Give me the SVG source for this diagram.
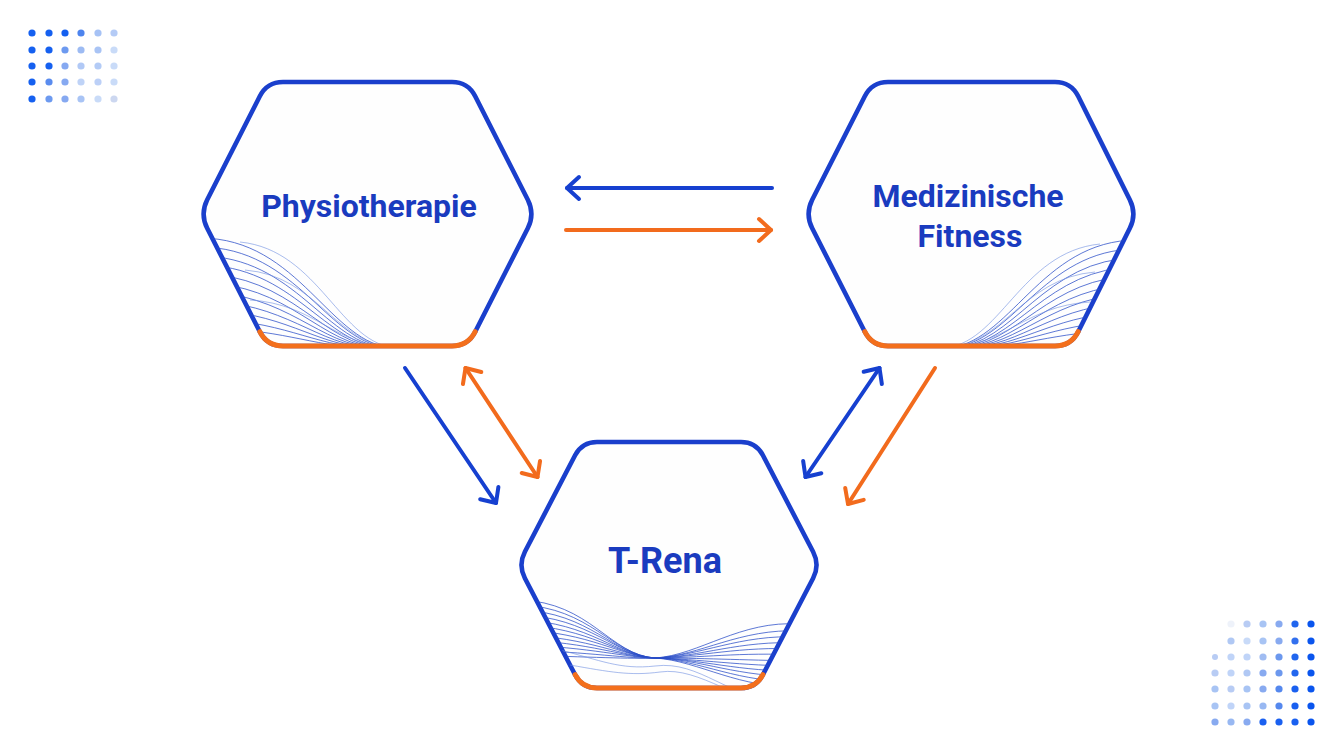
<svg xmlns="http://www.w3.org/2000/svg" width="1344" height="756" viewBox="0 0 1344 756">
<style>
.hex{fill:#fefefe;stroke:#1a3fcc;stroke-width:4.6;stroke-linejoin:round}
.base{fill:none;stroke:#f36f1c;stroke-width:5;stroke-linecap:round}
.lbl{font-family:Roboto,"Liberation Sans",sans-serif;font-weight:700;fill:#1a3bbf;text-anchor:middle}
.wave{fill:none;stroke:#2a4ec8;stroke-width:0.9;opacity:0.85}
.wl{fill:none;stroke:#6f8ee0;stroke-width:0.8;opacity:0.75}
.ab{fill:none;stroke:#1640d0;stroke-width:4;stroke-linecap:round}
.ao{fill:none;stroke:#f26b1d;stroke-width:4;stroke-linecap:round}
</style>
<defs>
<marker id="hb" viewBox="-16 -16 32 32" markerWidth="32" markerHeight="32" refX="0" refY="0" markerUnits="userSpaceOnUse" orient="auto-start-reverse">
<path d="M -12,-11 L 0,0 L -12,11" fill="none" stroke="#1640d0" stroke-width="4" stroke-linecap="round" stroke-linejoin="round"/>
</marker>
<marker id="ho" viewBox="-16 -16 32 32" markerWidth="32" markerHeight="32" refX="0" refY="0" markerUnits="userSpaceOnUse" orient="auto-start-reverse">
<path d="M -12,-11 L 0,0 L -12,11" fill="none" stroke="#f26b1d" stroke-width="4" stroke-linecap="round" stroke-linejoin="round"/>
</marker>
<clipPath id="c1"><path d="M259.8,96.3 Q267,82 283,82 L452,82 Q468,82 475.2,96.3 L527.8,199.7 Q535,214 527.8,228.3 L475.2,331.7 Q468,346 452,346 L283,346 Q267,346 259.8,331.7 L207.2,228.3 Q200,214 207.2,199.7 Z"/></clipPath>
<clipPath id="c2"><path d="M864.8,96.3 Q872,82 888,82 L1055,82 Q1071,82 1078.2,96.3 L1129.8,199.7 Q1137,214 1129.8,228.3 L1078.2,331.7 Q1071,346 1055,346 L888,346 Q872,346 864.8,331.7 L812.2,228.3 Q805,214 812.2,199.7 Z"/></clipPath>
<clipPath id="c3"><path d="M575.1,455.3 Q582,442 597,442 L741,442 Q756,442 762.9,455.3 L813.1,551.7 Q820,565 813.1,578.3 L762.9,674.7 Q756,688 741,688 L597,688 Q582,688 575.1,674.7 L524.9,578.3 Q518,565 524.9,551.7 Z"/></clipPath>
</defs>
<rect width="1344" height="756" fill="#ffffff"/>

<g id="dots-top-left">
<circle cx="32" cy="33" r="3.6" fill="#1560f0"/><circle cx="49" cy="33" r="3.6" fill="#1560f0"/><circle cx="65" cy="33" r="3.6" fill="#1560f0"/><circle cx="81" cy="33" r="3.6" fill="#4d84ee"/><circle cx="98" cy="33" r="3.6" fill="#a6c2f5"/><circle cx="114" cy="33" r="3.6" fill="#b4cbf6"/>
<circle cx="32" cy="50" r="3.6" fill="#1560f0"/><circle cx="49" cy="50" r="3.6" fill="#1560f0"/><circle cx="65" cy="50" r="3.6" fill="#6d9af0"/><circle cx="81" cy="50" r="3.6" fill="#9dbbf3"/><circle cx="98" cy="50" r="3.6" fill="#a9c4f5"/><circle cx="114" cy="50" r="3.6" fill="#c9dbf8"/>
<circle cx="32" cy="66" r="3.6" fill="#1560f0"/><circle cx="49" cy="66" r="3.6" fill="#1560f0"/><circle cx="65" cy="66" r="3.6" fill="#86a9f1"/><circle cx="81" cy="66" r="3.6" fill="#b1c9f6"/><circle cx="98" cy="66" r="3.6" fill="#b3cbf6"/><circle cx="114" cy="66" r="3.6" fill="#c9dbf8"/>
<circle cx="32" cy="82" r="3.6" fill="#1560f0"/><circle cx="49" cy="82" r="3.6" fill="#5a8cef"/><circle cx="65" cy="82" r="3.6" fill="#86a9f1"/><circle cx="81" cy="82" r="3.6" fill="#bfd3f7"/><circle cx="98" cy="82" r="3.6" fill="#bcd0f7"/><circle cx="114" cy="82" r="3.6" fill="#c9dbf8"/>
<circle cx="32" cy="99" r="3.6" fill="#1560f0"/><circle cx="49" cy="99" r="3.6" fill="#6d9af0"/><circle cx="65" cy="99" r="3.6" fill="#86a9f1"/><circle cx="81" cy="99" r="3.6" fill="#a9c4f5"/><circle cx="98" cy="99" r="3.6" fill="#c9dbf8"/><circle cx="114" cy="99" r="3.6" fill="#ccd7f0"/>
</g>

<g id="dots-bottom-right">
<circle cx="1231" cy="624" r="3.6" fill="#eef2fa"/><circle cx="1247" cy="624" r="3.6" fill="#b8ccf4"/><circle cx="1263" cy="624" r="3.6" fill="#a8c4f4"/><circle cx="1279" cy="624" r="3.6" fill="#88aaf0"/><circle cx="1295" cy="624" r="3.6" fill="#2266ee"/><circle cx="1311" cy="624" r="3.6" fill="#0a55ee"/>
<circle cx="1231" cy="641" r="3.6" fill="#b0c8f4"/><circle cx="1247" cy="641" r="3.6" fill="#c8daf8"/><circle cx="1263" cy="641" r="3.6" fill="#a8c4f4"/><circle cx="1279" cy="641" r="3.6" fill="#88aaf0"/><circle cx="1295" cy="641" r="3.6" fill="#3370ee"/><circle cx="1311" cy="641" r="3.6" fill="#0a55ee"/>
<circle cx="1215" cy="657" r="3" fill="#b8ccf4"/><circle cx="1231" cy="657" r="3.6" fill="#c0d4f8"/><circle cx="1247" cy="657" r="3.6" fill="#c0d4f8"/><circle cx="1263" cy="657" r="3.6" fill="#a0bcf2"/><circle cx="1279" cy="657" r="3.6" fill="#6c98ee"/><circle cx="1295" cy="657" r="3.6" fill="#2266ee"/><circle cx="1311" cy="657" r="3.6" fill="#0a55ee"/>
<circle cx="1215" cy="673" r="3.6" fill="#b8ccf4"/><circle cx="1231" cy="673" r="3.6" fill="#c0d4f8"/><circle cx="1247" cy="673" r="3.6" fill="#b0c8f4"/><circle cx="1263" cy="673" r="3.6" fill="#88aaf0"/><circle cx="1279" cy="673" r="3.6" fill="#6c98ee"/><circle cx="1295" cy="673" r="3.6" fill="#2266ee"/><circle cx="1311" cy="673" r="3.6" fill="#0a55ee"/>
<circle cx="1215" cy="689" r="3.6" fill="#a8c4f4"/><circle cx="1231" cy="689" r="3.6" fill="#b8ccf4"/><circle cx="1247" cy="689" r="3.6" fill="#a8c4f4"/><circle cx="1263" cy="689" r="3.6" fill="#88aaf0"/><circle cx="1279" cy="689" r="3.6" fill="#5588ee"/><circle cx="1295" cy="689" r="3.6" fill="#1a60f0"/><circle cx="1311" cy="689" r="3.6" fill="#0a55ee"/>
<circle cx="1215" cy="706" r="3.6" fill="#a8c4f4"/><circle cx="1231" cy="706" r="3.6" fill="#c0d4f8"/><circle cx="1247" cy="706" r="3.6" fill="#a8c4f4"/><circle cx="1263" cy="706" r="3.6" fill="#98b8f2"/><circle cx="1279" cy="706" r="3.6" fill="#5588ee"/><circle cx="1295" cy="706" r="3.6" fill="#1a60f0"/><circle cx="1311" cy="706" r="3.6" fill="#0a55ee"/>
<circle cx="1215" cy="722" r="3.6" fill="#88aaf0"/><circle cx="1231" cy="722" r="3.6" fill="#98b8f2"/><circle cx="1247" cy="722" r="3.6" fill="#88aaf0"/><circle cx="1263" cy="722" r="3.6" fill="#1a60f0"/><circle cx="1279" cy="722" r="3.6" fill="#1a60f0"/><circle cx="1295" cy="722" r="3.6" fill="#1a60f0"/><circle cx="1311" cy="722" r="3.6" fill="#0a55ee"/>
</g>

<g id="node-physiotherapie">
<path class="hex" d="M259.8,96.3 Q267,82 283,82 L452,82 Q468,82 475.2,96.3 L527.8,199.7 Q535,214 527.8,228.3 L475.2,331.7 Q468,346 452,346 L283,346 Q267,346 259.8,331.7 L207.2,228.3 Q200,214 207.2,199.7 Z"/>
<g clip-path="url(#c1)">
<path class="wave" d="M200,238 C300,238 330,346 395,348"/>
<path class="wave" d="M200,247 C298,247 328,346 392,348"/>
<path class="wave" d="M200,256 C296,256 326,346 389,348"/>
<path class="wave" d="M200,265 C294,265 324,346 386,348"/>
<path class="wave" d="M200,274 C292,274 322,346 383,348"/>
<path class="wave" d="M200,283 C290,283 320,346 380,348"/>
<path class="wave" d="M200,292 C288,292 318,346 377,348"/>
<path class="wave" d="M200,301 C286,301 316,346 374,348"/>
<path class="wave" d="M200,310 C284,310 314,346 371,348"/>
<path class="wave" d="M200,319 C282,319 312,346 368,348"/>
<path class="wave" d="M200,328 C280,328 310,346 365,348"/>
<path class="wl" d="M240,242 C320,250 340,346 398,348"/>
<path class="wl" d="M245,270 C318,276 336,346 396,348"/>
<path class="wl" d="M250,300 C316,304 334,346 394,348"/>
</g>
<path class="base" d="M475.2,331.7 Q468,346 452,346 L283,346 Q267,346 259.8,331.7"/>
<text class="lbl" x="369" y="217" font-size="32">Physiotherapie</text>
</g>

<g id="node-medizinische-fitness">
<path class="hex" d="M864.8,96.3 Q872,82 888,82 L1055,82 Q1071,82 1078.2,96.3 L1129.8,199.7 Q1137,214 1129.8,228.3 L1078.2,331.7 Q1071,346 1055,346 L888,346 Q872,346 864.8,331.7 L812.2,228.3 Q805,214 812.2,199.7 Z"/>
<g clip-path="url(#c2)">
<path class="wave" d="M1137,240 C1040,240 1010,346 945,348"/>
<path class="wave" d="M1137,249 C1042,249 1012,346 948,348"/>
<path class="wave" d="M1137,258 C1044,258 1014,346 951,348"/>
<path class="wave" d="M1137,267 C1046,267 1016,346 954,348"/>
<path class="wave" d="M1137,276 C1048,276 1018,346 957,348"/>
<path class="wave" d="M1137,285 C1050,285 1020,346 960,348"/>
<path class="wave" d="M1137,294 C1052,294 1022,346 963,348"/>
<path class="wave" d="M1137,303 C1054,303 1024,346 966,348"/>
<path class="wave" d="M1137,312 C1056,312 1026,346 969,348"/>
<path class="wave" d="M1137,321 C1058,321 1028,346 972,348"/>
<path class="wave" d="M1137,330 C1060,330 1030,346 975,348"/>
<path class="wl" d="M1100,244 C1020,252 1000,346 942,348"/>
<path class="wl" d="M1095,272 C1022,278 1004,346 944,348"/>
<path class="wl" d="M1090,302 C1024,306 1006,346 946,348"/>
</g>
<path class="base" d="M1078.2,331.7 Q1071,346 1055,346 L888,346 Q872,346 864.8,331.7"/>
<text class="lbl" x="968" y="207" font-size="32">Medizinische</text>
<text class="lbl" x="970" y="247" font-size="32">Fitness</text>
</g>

<g id="node-t-rena">
<path class="hex" d="M575.1,455.3 Q582,442 597,442 L741,442 Q756,442 762.9,455.3 L813.1,551.7 Q820,565 813.1,578.3 L762.9,674.7 Q756,688 741,688 L597,688 Q582,688 575.1,674.7 L524.9,578.3 Q518,565 524.9,551.7 Z"/>
<g clip-path="url(#c3)">
<path class="wave" d="M520,600 C590,602 610,655 655,658 C700,661 740,690 800,686"/>
<path class="wave" d="M520,605 C590,607 612,655 655,658 C700,660 740,684 800,681"/>
<path class="wave" d="M520,610 C590,612 614,656 655,658 C700,659 740,678 800,676"/>
<path class="wave" d="M520,615 C590,617 616,656 655,658 C700,659 740,672 800,671"/>
<path class="wave" d="M520,620 C590,622 618,657 655,658 C700,659 740,666 800,666"/>
<path class="wave" d="M520,625 C590,627 620,657 655,658 C700,658 740,660 800,661"/>
<path class="wave" d="M520,630 C590,632 622,657 655,658 C700,658 740,652 800,655"/>
<path class="wave" d="M520,635 C590,637 624,658 655,658 C700,657 740,646 800,649"/>
<path class="wave" d="M520,640 C590,642 626,658 655,658 C700,657 740,640 800,643"/>
<path class="wave" d="M520,645 C590,647 628,658 655,658 C700,656 740,634 800,637"/>
<path class="wave" d="M520,650 C590,652 630,659 655,658 C700,656 740,628 800,631"/>
<path class="wave" d="M520,655 C590,657 632,659 655,658 C700,655 740,620 800,624"/>
<path class="wl" d="M560,650 C600,660 620,670 655,666 C700,660 730,700 780,700"/>
<path class="wl" d="M570,665 C610,672 630,676 660,672 C700,666 740,706 790,706"/>
</g>
<path class="base" d="M762.9,674.7 Q756,688 741,688 L597,688 Q582,688 575.1,674.7"/>
<text class="lbl" x="665" y="573" font-size="36">T-Rena</text>
</g>

<g id="connectors">
<path class="ab" d="M772,188 L567,188" marker-end="url(#hb)"/>
<path class="ao" d="M566,230 L771,230" marker-end="url(#ho)"/>
<path class="ab" d="M405,368 L496,503" marker-end="url(#hb)"/>
<path class="ao" d="M465.5,368 L537.5,477" marker-start="url(#ho)" marker-end="url(#ho)"/>
<path class="ab" d="M879.5,368 L805.5,477" marker-start="url(#hb)" marker-end="url(#hb)"/>
<path class="ao" d="M935,368 L848,504" marker-end="url(#ho)"/>
</g>
</svg>
